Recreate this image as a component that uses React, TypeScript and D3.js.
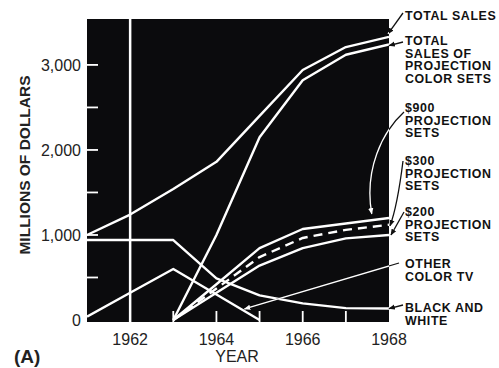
import React from "react";
import * as d3 from "d3";

// ---- data (millions of dollars) ----
const allYears = [1961, 1962, 1963, 1964, 1965, 1966, 1967, 1968];
const projYears = [1963, 1964, 1965, 1966, 1967, 1968];
const otherYears = [1961, 1962, 1963, 1964, 1965];

const totalSales = [1000, 1240, 1540, 1860, 2400, 2940, 3210, 3330];
const totalProjection = [0, 1000, 2150, 2820, 3120, 3240];
const set900 = [0, 420, 845, 1070, 1135, 1200];
const set300 = [0, 370, 740, 965, 1060, 1120];
const set200 = [0, 320, 640, 845, 960, 1000];
const otherColor = [40, 320, 600, 300, 0];
const blackWhite = [940, 940, 940, 490, 290, 195, 140, 135];

const xTickLabels = [1962, 1964, 1966, 1968];
const xMinorTicks = [1963, 1964, 1965, 1966, 1967];
const yTickLabels = [0, 1000, 2000, 3000];
const yMinorTicks = [500, 1000, 1500, 2000, 2500, 3000];

const FONT = "'Liberation Sans', Arial, sans-serif";

export default function App() {
  const W = 499, H = 368;
  const left = 87, right = 389, top = 19, bottom = 322;
  const x = d3.scaleLinear().domain([1961, 1968]).range([left, right]);
  const y = d3.scaleLinear().domain([0, 3540]).range([320, top]);

  const line = (xs: number[], vs: number[]) =>
    d3.line<number>().x((_, i) => x(xs[i])).y((v) => y(v))(vs) || "";

  const series = [
    { xs: allYears, vs: totalSales, dash: undefined },
    { xs: projYears, vs: totalProjection, dash: undefined },
    { xs: projYears, vs: set900, dash: undefined },
    { xs: projYears, vs: set300, dash: "9,6" },
    { xs: projYears, vs: set200, dash: undefined },
    { xs: otherYears, vs: otherColor, dash: undefined },
    { xs: allYears, vs: blackWhite, dash: undefined },
  ];

  const labels: { lines: string[]; y0: number }[] = [
    { lines: ["TOTAL SALES"], y0: 20 },
    { lines: ["TOTAL", "SALES OF", "PROJECTION", "COLOR SETS"], y0: 45 },
    { lines: ["$900", "PROJECTION", "SETS"], y0: 112 },
    { lines: ["$300", "PROJECTION", "SETS"], y0: 165 },
    { lines: ["$200", "PROJECTION", "SETS"], y0: 216 },
    { lines: ["OTHER", "COLOR TV"], y0: 268 },
    { lines: ["BLACK AND", "WHITE"], y0: 312 },
  ];

  const xe = x(1968);
  // pointer paths from labels to lines
  const pointers: { d: string; head: string }[] = [
    { d: `M403,13 L${xe - 1},${y(totalSales[7]) - 3}`, head: "b" },
    { d: `M403,42 L${xe},${y(totalProjection[5]) + 1}`, head: "b" },
    { d: `M404,112 C382,132 364,170 ${x(1967.6)},${y(set900[5]) - 4}`, head: "w" },
    { d: `M403,161 C400,185 396,210 ${xe + 1},${y(set300[5]) + 1}`, head: "b" },
    { d: `M404,212 L${xe + 2},${y(set200[5])}`, head: "b" },
    { d: `M399,263 L${x(1964.65)},${y(130)}`, head: "w" },
    { d: `M403,305 L${xe},${y(blackWhite[7])}`, head: "b" },
  ];

  return (
    <svg
      width={W}
      height={H}
      style={{ position: "absolute", left: 0, top: 0, background: "#fff" }}
      fontFamily={FONT}
    >
      <defs>
        <clipPath id="plot">
          <rect x={left} y={top} width={right - left} height={bottom - top} />
        </clipPath>
        <marker id="ab" viewBox="0 0 10 10" refX="9" refY="5" markerWidth="5" markerHeight="5" orient="auto">
          <path d="M0,1 L10,5 L0,9 z" fill="#111" />
        </marker>
        <marker id="aw" viewBox="0 0 10 10" refX="9" refY="5" markerWidth="5" markerHeight="5" orient="auto">
          <path d="M0,1 L10,5 L0,9 z" fill="#fff" />
        </marker>
      </defs>

      <rect x={left} y={top} width={right - left} height={bottom - top} fill="#0b0b0d" />

      {/* 1962 vertical white line */}
      <line x1={x(1962)} x2={x(1962)} y1={top} y2={bottom} stroke="#fff" strokeWidth={2.5} />

      {/* minor ticks */}
      {xMinorTicks.map((t) => (
        <line key={"xt" + t} x1={x(t)} x2={x(t)} y1={bottom} y2={bottom - 11} stroke="#fff" strokeWidth={1.8} />
      ))}
      {yMinorTicks.map((t) => (
        <line key={"yt" + t} x1={left} x2={left + 11} y1={y(t)} y2={y(t)} stroke="#fff" strokeWidth={1.8} />
      ))}

      <g clipPath="url(#plot)">
        {series.map((s, i) => (
          <path
            key={i}
            d={line(s.xs, s.vs)}
            fill="none"
            stroke="#fff"
            strokeWidth={2.4}
            strokeDasharray={s.dash}
            strokeLinejoin="round"
          />
        ))}
      </g>

      {/* pointers: black outside, white inside */}
      {pointers.map((p, i) => (
        <g key={"p" + i}>
          <path d={p.d} fill="none" stroke="#111" strokeWidth={1.3} markerEnd={p.head === "b" ? "url(#ab)" : undefined} />
          <path d={p.d} fill="none" stroke="#fff" strokeWidth={1.3} clipPath="url(#plot)" markerEnd={p.head === "w" ? "url(#aw)" : undefined} />
        </g>
      ))}

      {/* right labels */}
      {labels.map((l, i) =>
        l.lines.map((t, j) => (
          <text
            key={"l" + i + "-" + j}
            x={405}
            y={l.y0 + j * 12.7}
            fontSize={12.4}
            fontWeight="bold"
            letterSpacing={0.6}
            fill="#111"
          >
            {t}
          </text>
        ))
      )}

      {/* y tick labels */}
      {yTickLabels.map((t) => (
        <text key={"yl" + t} x={81} y={y(t) + 6} textAnchor="end" fontSize={16} fill="#222">
          {d3.format(",")(t)}
        </text>
      ))}
      {/* x tick labels */}
      {xTickLabels.map((t) => (
        <text key={"xl" + t} x={x(t)} y={345} textAnchor="middle" fontSize={16} fill="#222">
          {t}
        </text>
      ))}

      <text x={237} y={362} textAnchor="middle" fontSize={16} fill="#222">YEAR</text>
      <text transform={`translate(30,165) rotate(-90)`} textAnchor="middle" fontSize={15.5} fontWeight="bold" fill="#222">
        MILLIONS OF DOLLARS
      </text>
      <text x={14} y={363} fontSize={19} fontWeight="bold" fill="#222">(A)</text>
    </svg>
  );
}
